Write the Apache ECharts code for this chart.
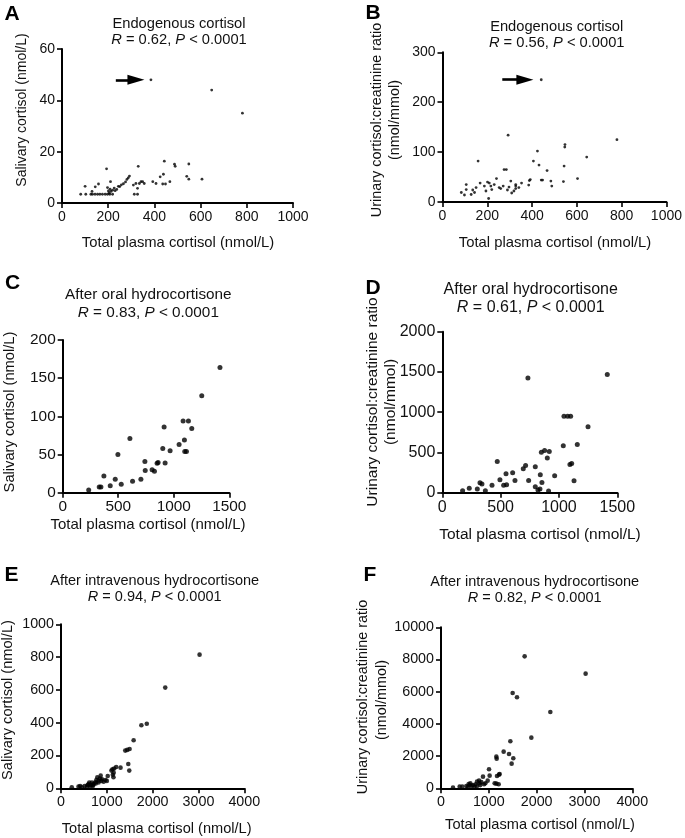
<!DOCTYPE html>
<html>
<head>
<meta charset="utf-8">
<script src="https://cdn.jsdelivr.net/npm/echarts@6/dist/echarts.min.js"></script>
<style>
html,body{margin:0;padding:0;background:#fff;}
#chart{width:685px;height:838px;}
</style>
</head>
<body>
<div id="chart"></div>
<script>
// ---- Data (total plasma cortisol, nmol/L ; response) ----
const panelA = [[81,3.4],[103,3.4],[125,3.4],[132,3.4],[143,3.4],[154,3.4],[164,3.4],[175,3.4],[187,3.4],[197,3.4],[207,3.4],[219,3.4],
[100,6.5],[144,6.3],[158,7.4],[130,4.5],[193,13.3],
[197,6.0],[201,4.7],[204,3.9],[208,5.4],[210,8.3],[212,4.5],[219,5.0],[226,5.8],[230,4.8],[237,5.3],[244,6.5],[250,6.4],[257,7.1],[266,7.5],[275,8.2],[281,9.2],[287,9.8],[292,10.5],
[309,7.0],[320,7.6],[313,3.4],[327,3.4],[327,5.7],[330,14.3],[335,7.6],[342,8.3],[349,8.3],[356,7.6],
[385,48],[393,8.3],[407,7.6],[425,10.2],[439,11.2],[436,7.4],[448,7.4],[443,16.3],[467,8.3],[487,15.1],[490,14.3],
[540,10.4],[549,9.3],[549,15.2],[606,9.3],[648,44],[781,35]];
const panelB = [[441,245],[293,134],[779,125],[547,115],[546,110],[424,102],[644,90],[159,82],[406,82],[431,74],[543,72],[467,63],[275,65],[285,65],[392,45],[388,43],[441,44],[447,44],[484,42],[603,47],[540,41],[488,32],[385,34],[353,38],[305,42],[327,35],[327,32],[327,27],[341,29],[319,22],[309,18],[297,30],[290,24],[271,32],[253,29],[241,47],[231,35],[216,32],[209,38],[201,40],[220,25],[194,22],[187,32],[168,38],[150,29],[135,24],[143,19],[128,15],[106,35],[106,25],[84,19],[98,14],[206,7],[260,27]];
const panelC = [[234,3.5],[329,7.5],[344,7.5],[371,22],[428,9],[473,17.5],[497,50],[527,11],[605,71],[629,15],[704,17.5],[740,41],[743,29],[805,30],[826,28],[850,38.6],[859,39.5],[901,58],[913,86],[922,39],[967,55],[1048,63],[1084,94],[1096,69],[1099,54],[1114,54],[1132,94],[1162,84],[1252,127],[1416,164]];
const panelD = [[174,25],[231,54],[300,45],[323,124],[340,107],[369,25],[426,91],[471,388],[494,161],[526,91],[551,99],[546,236],[603,248],[623,153],[694,297],[714,339],[734,1425],[740,153],[797,322],[797,74],[820,33],[837,45],[840,223],[849,504],[854,128],[877,525],[900,430],[917,512],[911,21],[963,211],[1037,583],[1043,950],[1074,950],[1100,950],[1094,351],[1109,364],[1129,149],[1157,599],[1249,818],[1414,1467]];
const panelE = [[3024,815],[2275,614],[1754,384],[1872,394],[1585,293],[1402,230],[1446,234],[1497,240],[1468,148],[1490,108],[1299,126],[1204,130],[1160,120],[1123,116],[1101,108],[1130,83],[1145,67],[1020,75],[969,51],[895,55],[866,77],[822,47],[793,67],[749,37],[771,51],[712,26],[675,35],[617,35],[580,20],[565,10],[514,14],[418,14],[382,10],[235,6],[455,6],[639,10],[690,20],[880,45],[930,40],[850,60],[760,30],[600,25],[640,20],[700,15],[820,35],[1000,45],[1150,95]];
const panelF = [[1749,8197],[3024,7121],[1498,5920],[1589,5651],[2286,4740],[1889,3146],[1450,2919],[1310,2277],[1422,2132],[1512,1863],[1477,1532],[1157,1967],[1164,1842],[1004,1180],[1017,787],[878,725],[976,476],[927,310],[843,393],[795,476],[753,414],[808,310],[725,248],[669,207],[599,186],[530,145],[613,310],[578,269],[446,104],[390,104],[251,41],[1122,310],[1157,290],[1206,248],[1171,766],[1213,849],[1227,890],[700,100],[750,120],[640,150],[560,80],[820,200],[900,250]];

// axis ranges [max, interval] for x and y of each panel
const xMax = [1000, 1000, 1500, 1500, 4000, 4000];
const xStep = [200, 200, 500, 500, 1000, 1000];
const yMax = [60, 300, 200, 2000, 1000, 10000];
const yStep = [20, 100, 50, 500, 200, 2000];

const letters = ['A','B','C','D','E','F'];
const titles1 = ['Endogenous cortisol','Endogenous cortisol','After oral hydrocortisone','After oral hydrocortisone','After intravenous hydrocortisone','After intravenous hydrocortisone'];
const rValues = ['0.62','0.56','0.83','0.61','0.94','0.82'];
const xTitle = 'Total plasma cortisol (nmol/L)';
const ySal = 'Salivary cortisol (nmol/L)';
const yUr1 = 'Urinary cortisol:creatinine ratio';
const yUr2 = '(nmol/mmol)';

// arrows marking the outlier in A and B: [x0, x1, y]
const arrowA = [233, 320, 48];
const arrowB = [267, 368, 245];

const FONT = '"Liberation Sans", Arial, Helvetica, sans-serif';

// ---- layout ----
const grids = [
  {left:62, top:49, width:231, height:154},
  {left:442.5, top:52.3, width:225.5, height:149.7},
  {left:62.7, top:340, width:166.6, height:152.7},
  {left:442.3, top:331.7, width:175, height:161},
  {left:61, top:624.3, width:183.3, height:164},
  {left:441, top:627.3, width:191.3, height:161}
];
const tickFont = [14, 14, 15.4, 16, 14.3, 14.3];
const dotSize = [2.8, 2.8, 5, 5, 4.6, 4.6];
const datasets = [panelA, panelB, panelC, panelD, panelE, panelF];

function axisCommon(i, max, step) {
  return {
    gridIndex: i, type: 'value', min: 0, max: max, interval: step,
    axisLine: {show: true, onZero: false, lineStyle: {color: '#000', width: 2}},
    axisTick: {show: true, length: 5, lineStyle: {color: '#000', width: 1.6}},
    axisLabel: {color: '#111', fontSize: tickFont[i], fontFamily: FONT, margin: 7,
      formatter: function (v) { return String(v); }},
    splitLine: {show: false}
  };
}

const xAxes = [], yAxes = [], series = [];
for (let i = 0; i < 6; i++) {
  xAxes.push(axisCommon(i, xMax[i], xStep[i]));
  yAxes.push(axisCommon(i, yMax[i], yStep[i]));
  const s = {
    type: 'scatter', xAxisIndex: i, yAxisIndex: i, data: datasets[i],
    symbol: 'circle', symbolSize: dotSize[i], itemStyle: {color: '#000'},
    silent: true, animation: false
  };
  const arr = i === 0 ? arrowA : (i === 1 ? arrowB : null);
  if (arr) {
    s.markLine = {
      silent: true, animation: false,
      symbol: ['none', 'triangle'], symbolSize: [10, 17],
      label: {show: false},
      lineStyle: {color: '#000', width: 2.6, type: 'solid'},
      data: [[{coord: [arr[0], arr[2]]}, {coord: [arr[1], arr[2]]}]]
    };
  }
  series.push(s);
}

// ---- text ----
const titlePos = [[179,24,40,14.7],[556.7,27,43,14.7],[148.3,295,312.7,15.3],[530.7,290,307.7,16],[154.7,580.7,596.7,14.5],[534.7,581.7,597.7,14.5]];
const letterPos = [[12,14],[373,13],[12.5,283],[373,288],[11.5,575.5],[370,575.5]];
const xLabPos = [[178,243,14.8],[555,243,14.8],[148,525,15],[540,535,15.5],[156.7,829,14.6],[540,825,14.6]];

const graphics = [];
function txt(x, y, text, size, extra) {
  const g = {type: 'text', x: x, y: y, silent: true,
    style: Object.assign({text: text, fontSize: size, fontFamily: FONT, fill: '#111', align: 'center', verticalAlign: 'middle'}, extra || {})};
  return g;
}
for (let i = 0; i < 6; i++) {
  const t = titlePos[i];
  graphics.push(txt(t[0], t[1], titles1[i], t[3]));
  graphics.push(txt(t[0], t[2], '{i|R} = ' + rValues[i] + ', {i|P} < 0.0001', t[3], {
    rich: {i: {fontStyle: 'italic', fontSize: t[3], fontFamily: FONT, fill: '#111'}}
  }));
  const l = letterPos[i];
  graphics.push(txt(l[0], l[1], letters[i], 21, {fontWeight: 'bold', fill: '#000'}));
  const xl = xLabPos[i];
  graphics.push(txt(xl[0], xl[1], xTitle, xl[2]));
}
// y-axis titles (rotated)
function ytxt(x, y, text, size) {
  const g = txt(x, y, text, size);
  g.rotation = Math.PI / 2;
  return g;
}
graphics.push(ytxt(22, 110, ySal, 14));
graphics.push(ytxt(377, 120, yUr1, 14.4));
graphics.push(ytxt(395, 120, yUr2, 14.4));
graphics.push(ytxt(10, 412, ySal, 14.7));
graphics.push(ytxt(373, 402, yUr1, 15.5));
graphics.push(ytxt(391, 402, yUr2, 15.5));
graphics.push(ytxt(8, 700, ySal, 14.6));
graphics.push(ytxt(363, 697, yUr1, 14.4));
graphics.push(ytxt(382, 700, yUr2, 14.4));

const chart = echarts.init(document.getElementById('chart'), null, {renderer: 'canvas'});
chart.setOption({
  animation: false,
  backgroundColor: '#fff',
  grid: grids.map(g => Object.assign({containLabel: false}, g)),
  xAxis: xAxes,
  yAxis: yAxes,
  series: series,
  graphic: graphics
});
</script>
</body>
</html>
